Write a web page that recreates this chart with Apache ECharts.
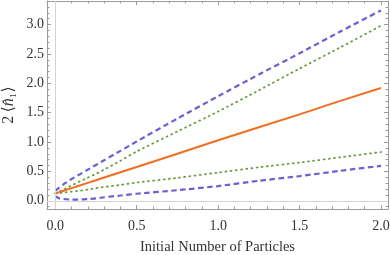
<!DOCTYPE html>
<html>
<head>
<meta charset="utf-8">
<script src="https://cdn.jsdelivr.net/npm/echarts@6/dist/echarts.min.js"></script>
<style>html,body{margin:0;padding:0;background:#fff}#c{width:390px;height:255px}</style>
</head>
<body>
<div id="c"></div>
<script>
// Data
var xs = [0, 0.02, 0.05, 0.1, 0.15, 0.2, 0.25, 0.3, 0.4, 0.5, 0.75, 1.0, 1.25, 1.5, 1.75, 2.0];
var meanVals = [0.125, 0.143, 0.17, 0.215, 0.26, 0.305, 0.35, 0.395, 0.485, 0.575, 0.80, 1.03, 1.25, 1.47, 1.70, 1.92];
var dottedUpper = [0.125, 0.15, 0.19, 0.26, 0.33, 0.395, 0.46, 0.53, 0.68, 0.84, 1.18, 1.52, 1.88, 2.25, 2.61, 2.98];
var dottedLower = [0.125, 0.13, 0.14, 0.155, 0.17, 0.19, 0.215, 0.235, 0.27, 0.31, 0.39, 0.48, 0.57, 0.65, 0.74, 0.83];
var dashedUpper = [0.17, 0.215, 0.28, 0.37, 0.45, 0.53, 0.61, 0.69, 0.85, 1.01, 1.40, 1.78, 2.15, 2.51, 2.88, 3.24];
var dashedLower = [0.08, 0.045, 0.03, 0.02, 0.02, 0.03, 0.04, 0.06, 0.09, 0.12, 0.18, 0.25, 0.34, 0.42, 0.51, 0.595];
var xMajor = [0, 0.5, 1, 1.5, 2];
var xMinor = [0.1, 0.2, 0.3, 0.4, 0.6, 0.7, 0.8, 0.9, 1.1, 1.2, 1.3, 1.4, 1.6, 1.7, 1.8, 1.9];
var yMajor = [0, 0.5, 1, 1.5, 2, 2.5, 3];
var yMinor = [-0.1, 0.1, 0.2, 0.3, 0.4, 0.6, 0.7, 0.8, 0.9, 1.1, 1.2, 1.3, 1.4, 1.6, 1.7, 1.8, 1.9, 2.1, 2.2, 2.3, 2.4, 2.6, 2.7, 2.8, 2.9, 3.1, 3.2, 3.3];

function pairs(vals){ return xs.map(function(x,i){ return [x, vals[i]]; }); }

var XMIN = -0.051, XMAX = 2.043, YMIN = -0.14, YMAX = 3.4;
var FRAME = '#9a9a9a';
var FONT = '"Liberation Serif", "DejaVu Serif", serif';

function xAx(pos, ticks, len, showLine, labels, extra){
  var a = {
    type: 'value', position: pos, min: XMIN, max: XMAX,
    axisLine: {show: showLine, onZero: false, lineStyle: {color: FRAME, width: 1}},
    axisTick: {show: true, inside: true, length: len, customValues: ticks, lineStyle: {color: FRAME, width: 1}},
    axisLabel: labels ? {show: true, customValues: xMajor, color: '#333', fontFamily: FONT, fontSize: 14, margin: 10,
      formatter: function(v){ return v.toFixed(1); }} : {show: false},
    splitLine: {show: false}
  };
  for (var k in extra) a[k] = extra[k];
  return a;
}
function yAx(pos, ticks, len, showLine, labels, extra){
  var a = {
    type: 'value', position: pos, min: YMIN, max: YMAX,
    axisLine: {show: showLine, onZero: false, lineStyle: {color: FRAME, width: 1}},
    axisTick: {show: true, inside: true, length: len, customValues: ticks, lineStyle: {color: FRAME, width: 1}},
    axisLabel: labels ? {show: true, customValues: yMajor, color: '#333', fontFamily: FONT, fontSize: 14, margin: 3,
      formatter: function(v){ return v.toFixed(1); }} : {show: false},
    splitLine: {show: false}
  };
  for (var k in extra) a[k] = extra[k];
  return a;
}

var chart = echarts.init(document.getElementById('c'), null, {renderer: 'canvas'});
var DASH_C = '#6b5fd3', DOT_C = '#6f9a3e', ORANGE = '#f26d1f';

chart.setOption({
  animation: false,
  backgroundColor: '#fff',
  grid: {left: 47, right: 2, top: 1, bottom: 46, containLabel: false, outerBoundsMode: 'none'},
  xAxis: [
    xAx('bottom', xMajor, 4, true, true, {
      name: 'Initial Number of Particles', nameLocation: 'middle', nameGap: 31, nameMoveOverlap: false,
      nameTextStyle: {color: '#333', fontFamily: FONT, fontSize: 14.5}
    }),
    xAx('bottom', xMinor, 2.5, false, false, {}),
    xAx('top', xMajor, 4, true, false, {}),
    xAx('top', xMinor, 2.5, false, false, {})
  ],
  yAxis: [
    yAx('left', yMajor, 4, true, true, {
      name: '{r|2\u2009\u27E8}{i|n\u0302}{r|\u2081\u27E9}', nameLocation: 'middle', nameGap: 30, nameRotate: 90,
      nameMoveOverlap: false,
      nameTextStyle: {rich: {
        r: {color: '#333', fontFamily: FONT, fontSize: 16},
        i: {color: '#333', fontFamily: FONT, fontSize: 16, fontStyle: 'italic'}
      }}
    }),
    yAx('left', yMinor, 2.5, false, false, {}),
    yAx('right', yMajor, 4, true, false, {}),
    yAx('right', yMinor, 2.5, false, false, {})
  ],
  series: [
    {type: 'line', name: 'axes', data: [], symbol: 'none', silent: true,
      markLine: {silent: true, symbol: 'none', label: {show: false},
        lineStyle: {color: '#d4d4d4', type: 'solid', width: 1},
        data: [{yAxis: 0}, {xAxis: 0}]}},
    {type: 'line', data: pairs(dashedUpper), symbol: 'none', smooth: 0.2,
      lineStyle: {color: DASH_C, width: 2.2, type: [5.5, 3.5]}},
    {type: 'line', data: pairs(dashedLower), symbol: 'none', smooth: 0.2,
      lineStyle: {color: DASH_C, width: 2.2, type: [5.5, 3.5]}},
    {type: 'line', data: pairs(dottedUpper), symbol: 'none', smooth: 0.2,
      lineStyle: {color: DOT_C, width: 1.8, type: [1, 4.2], cap: 'round'}},
    {type: 'line', data: pairs(dottedLower), symbol: 'none', smooth: 0.2,
      lineStyle: {color: DOT_C, width: 1.8, type: [1, 4.2], cap: 'round'}},
    {type: 'line', data: pairs(meanVals), symbol: 'none',
      lineStyle: {color: ORANGE, width: 2}}
  ]
});
</script>
</body>
</html>
